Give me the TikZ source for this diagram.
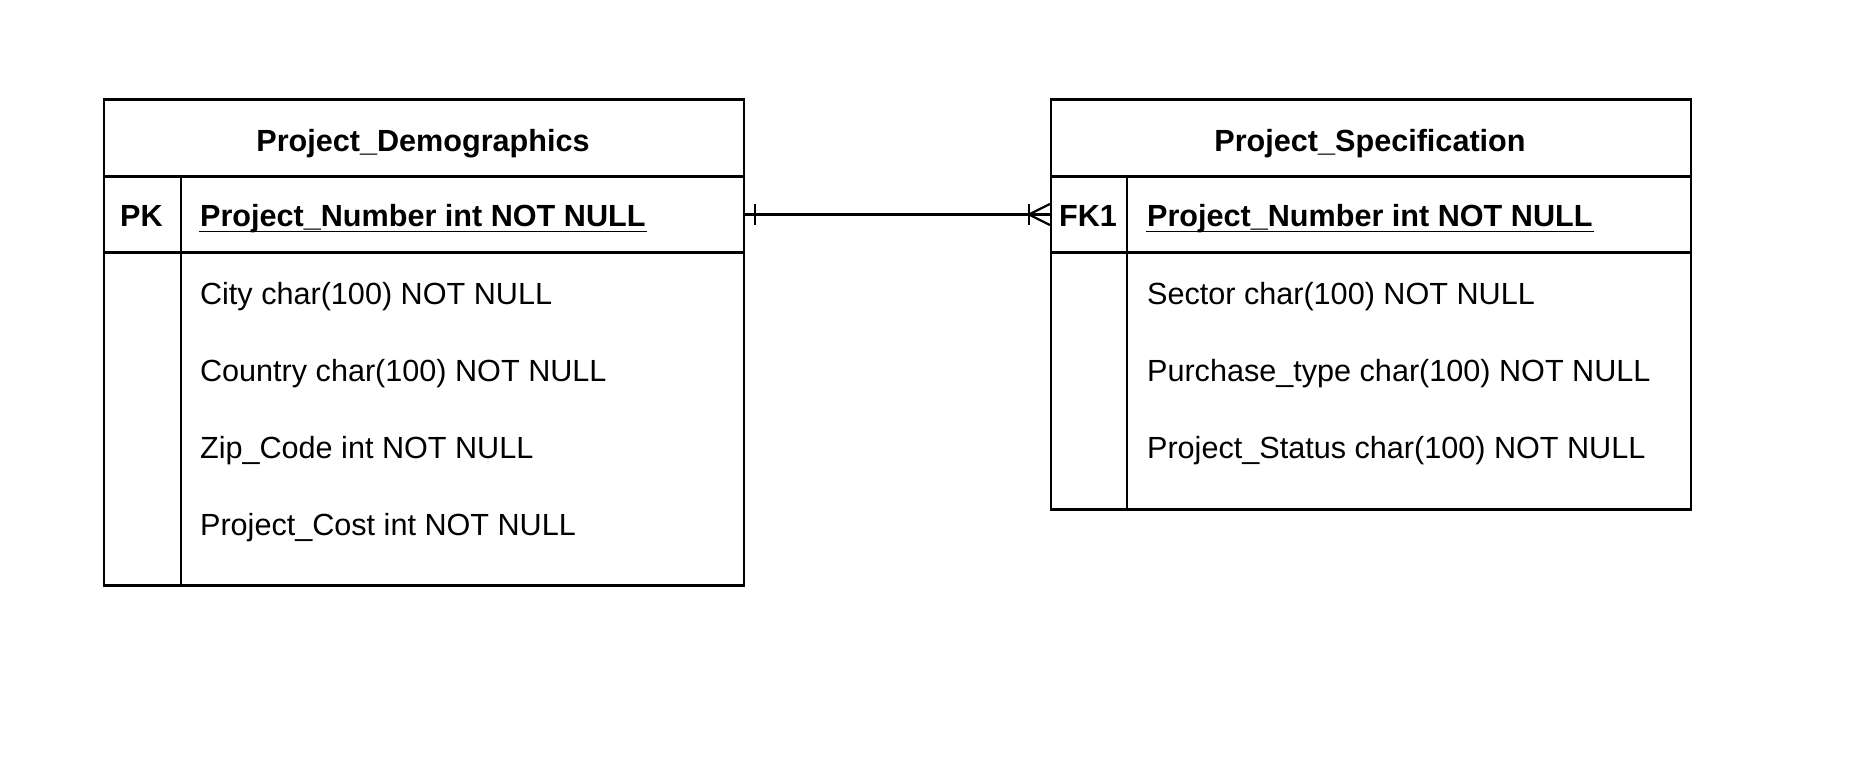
\documentclass[tikz,border=0pt]{standalone}
\usepackage{fontspec}
\setmainfont{Liberation Sans}
\usetikzlibrary{calc}

\begin{document}
\begin{tikzpicture}[x=0.5pt,y=-0.5pt,line width=1.1pt,
  box/.style={draw,inner sep=0pt,minimum width=320pt},
  field/.style={anchor=base west,inner sep=0pt,font=\fontsize{15.3}{18}\selectfont},
  keyfield/.style={field,font=\fontsize{15.3}{18}\selectfont\bfseries},
  keytag/.style={anchor=base,inner sep=0pt,font=\fontsize{15.3}{18}\selectfont\bfseries}]
\useasboundingbox (0,0) rectangle (1858,756);

\node[box,minimum height=38.5pt] (dhead) at (424,138) {};
\node[box,minimum height=38pt] (dkey) at (424,214.5) {};
\node[box,minimum height=166.5pt] (dbody) at (424,419) {};
\draw ($(dkey.north west)+(78,0)$) -- ($(dbody.south west)+(78,0)$);

\node[box,minimum height=38.5pt] (shead) at (1371,138) {};
\node[box,minimum height=38pt] (skey) at (1371,214.5) {};
\node[box,minimum height=128.5pt] (sbody) at (1371,381) {};
\draw ($(skey.north west)+(77,0)$) -- ($(sbody.south west)+(77,0)$);

\node[keytag] (dtitle) at (423,151) {Project\_Demographics};
\node[keytag] (dpk) at (141.5,226.5) {PK};
\node[keyfield] (dnum) at (199,226.5) {Project\_Number int NOT NULL};
\draw[line width=0.9pt] ($(dnum.base west)+(0,5)$) -- ($(dnum.base east)+(0,5)$);
\node[field] (dcity) at (199,304) {City char(100) NOT NULL};
\node[field] (dcountry) at (199,381) {Country char(100) NOT NULL};
\node[field] (dzip) at (199,458) {Zip\_Code int NOT NULL};
\node[field] (dcost) at (199,535) {Project\_Cost int NOT NULL};

\node[keytag] (stitle) at (1370,151) {Project\_Specification};
\node[keytag] (sfk) at (1088,226.5) {FK1};
\node[keyfield] (snum) at (1146,226.5) {Project\_Number int NOT NULL};
\draw[line width=0.9pt] ($(snum.base west)+(0,5)$) -- ($(snum.base east)+(0,5)$);
\node[field] (ssector) at (1146,304) {Sector char(100) NOT NULL};
\node[field] (spurchase) at (1146,381) {Purchase\_type char(100) NOT NULL};
\node[field] (sstatus) at (1146,458) {Project\_Status char(100) NOT NULL};

\draw (dkey.east) -- (skey.west);
\draw ($(dkey.east)+(10,-10.5)$) -- ++(0,21);
\draw ($(skey.west)+(-21,-10.5)$) -- ++(0,21);
\draw ($(skey.west)+(0,-10.5)$) -- ++(-21,10.5) -- ++(21,10.5);
\end{tikzpicture}
\end{document}
